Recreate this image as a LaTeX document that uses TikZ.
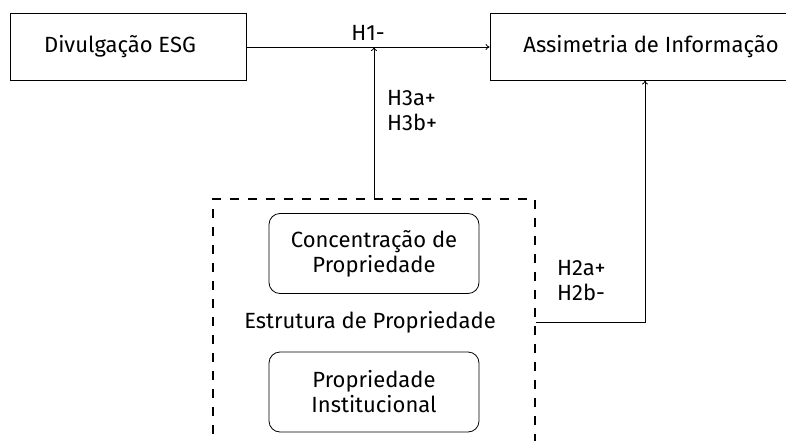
\documentclass[tikz,border=0pt]{standalone}
\usepackage{fontspec}
\setmainfont{Fira Sans}
\usetikzlibrary{arrows.meta}
\begin{document}
\begin{tikzpicture}[x=1pt,y=-1pt,
  every node/.style={font=\fontsize{22}{25}\selectfont, inner sep=0pt},
  sqbox/.style={draw, line width=0.8pt, minimum height=67pt},
  rbox/.style={draw, line width=0.8pt, rounded corners=11pt, minimum width=210pt, minimum height=80pt, align=center},
  grpbox/.style={draw, line width=1.5pt, dash pattern=on 9pt off 9pt, minimum width=322pt, minimum height=246pt},
  conn/.style={line width=0.8pt, -{To[length=4pt,width=6pt]}},
  lbl/.style={anchor=west, align=left}]
\useasboundingbox (0,0) rectangle (786,441);
\clip (0,0) rectangle (786,441);
\node[sqbox, minimum width=236pt] (div) at (128,47) {};
\node (divt) at (120,47) {Divulgação ESG};
\node[sqbox, minimum width=322pt] (asm) at (651,47) {};
\node (asmt) at (651,47) {Assimetria de Informação};
\node[grpbox] (grp) at (374,322) {};
\node[rbox] (conc) at (374,253.5) {Concentração de\\Propriedade};
\node (estr) at (370,322) {Estrutura de Propriedade};
\node[rbox] (inst) at (374,392) {Propriedade\\Institucional};
\coordinate (h3end) at (374,47);
\coordinate (h2end) at (645,80.5);
\draw[conn] (div.east) -- (asm.west);
\draw[conn] (grp.north -| h3end) -- (h3end);
\draw[conn] (grp.east) -| (h2end);
\node (h1) at (368,33) {H1-};
\node[lbl] (h3) at (387,111) {H3a+\\H3b+};
\node[lbl] (h2) at (557,281) {H2a+\\H2b-};
\end{tikzpicture}
\end{document}
